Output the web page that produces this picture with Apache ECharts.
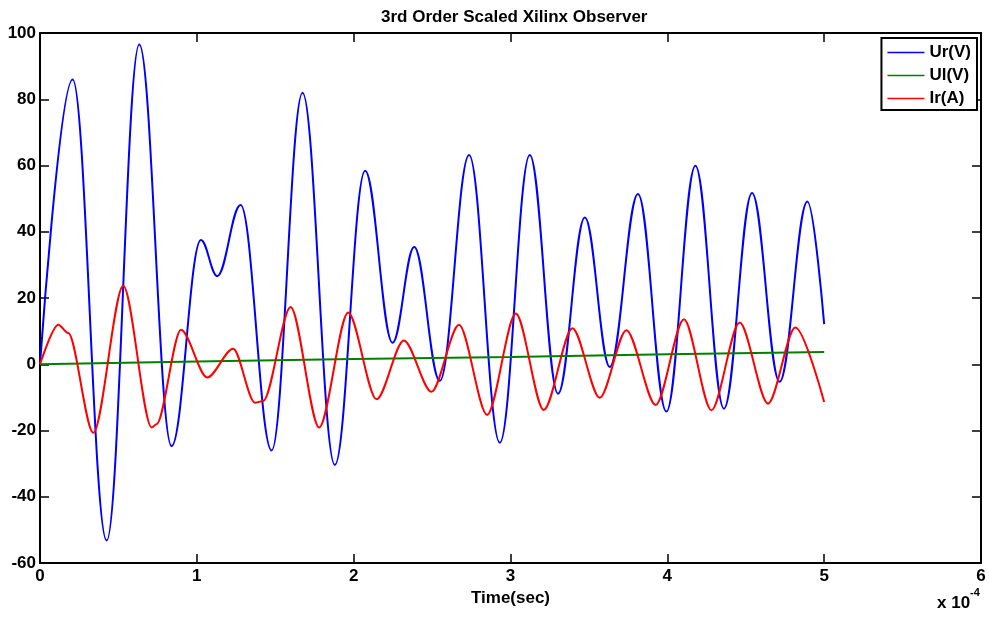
<!DOCTYPE html>
<html>
<head>
<meta charset="utf-8">
<script src="https://cdn.jsdelivr.net/npm/echarts@6/dist/echarts.min.js"></script>
<style>
html,body{margin:0;padding:0;background:#fff;}
#chart{width:989px;height:618px;}
</style>
</head>
<body>
<div id="chart"></div>
<script>
// Time in units of 1e-4 s
var urTime = [0, 0.208, 0.425, 0.633, 0.839, 1.026, 1.13, 1.279, 1.477, 1.674, 1.880, 2.073, 2.248, 2.386, 2.549, 2.736, 2.932, 3.123, 3.303, 3.474, 3.633, 3.813, 3.994, 4.179, 4.361, 4.540, 4.716, 4.893, 5.0];
var urValues = [0, 86, -53.2, 96.5, -24.7, 37.5, 26.6, 48.1, -26, 82, -30.4, 58.4, 6.5, 35.4, -5.0, 63.2, -23.7, 63.2, -8.9, 44.3, -0.8, 51.4, -14.3, 59.9, -13.4, 51.7, -5.3, 49.1, 12.1];

var ulTime = [0, 1, 2, 3, 4, 5];
var ulValues = [0, 0.8, 1.6, 2.2, 3.0, 3.7];

var irTime = [0, 0.117, 0.180, 0.340, 0.531, 0.712, 0.743, 0.899, 1.066, 1.232, 1.370, 1.423, 1.598, 1.780, 1.965, 2.146, 2.320, 2.496, 2.672, 2.851, 3.034, 3.212, 3.395, 3.569, 3.739, 3.926, 4.106, 4.281, 4.461, 4.642, 4.816, 5.0];
var irValues = [0, 11.9, 9.4, -20.7, 23.7, -19.1, -18.1, 10.4, -4.0, 4.7, -11.6, -11.1, 17.3, -19.1, 15.6, -10.6, 7.2, -8.3, 11.9, -15.3, 15.3, -13.8, 10.9, -10.1, 10.3, -12.3, 13.6, -13.9, 12.6, -11.9, 11.1, -11.4];

var seriesNames = ['Ur(V)', 'Ul(V)', 'Ir(A)'];
var titleText = '3rd Order Scaled Xilinx Observer';
var xAxisName = 'Time(sec)';

function pairs(t, v) { return t.map(function (x, i) { return [x, v[i]]; }); }

var FONT = '"Liberation Sans", Arial, Helvetica, sans-serif';
var chart = echarts.init(document.getElementById('chart'));
var axisLineStyle = { color: '#000', width: 2 };
var tickStyle = { show: true, inside: true, length: 9, lineStyle: { color: '#000', width: 1.5 } };
chart.setOption({
  animation: false,
  backgroundColor: '#fff',
  title: {
    text: titleText, left: 376, top: 4,
    textStyle: { fontFamily: FONT, fontSize: 17, fontWeight: 'bold', color: '#000' }
  },
  legend: {
    data: seriesNames, orient: 'vertical', right: 12, top: 38,
    backgroundColor: '#fff', borderColor: '#000', borderWidth: 2,
    padding: [6, 6, 3, 6], itemGap: 6, itemWidth: 37, itemHeight: 1.5, icon: 'rect',
    textStyle: { fontFamily: FONT, fontSize: 17, fontWeight: 'bold', color: '#000' }
  },
  grid: { left: 40, right: 8, top: 33, bottom: 55, containLabel: false },
  xAxis: [{
    type: 'value', min: 0, max: 6, interval: 1, position: 'bottom',
    name: xAxisName, nameLocation: 'middle', nameGap: 24,
    nameTextStyle: { fontFamily: FONT, fontSize: 17, fontWeight: 'bold', color: '#000' },
    axisLine: { show: true, onZero: false, lineStyle: axisLineStyle },
    axisTick: tickStyle,
    axisLabel: { margin: 5, fontFamily: FONT, fontSize: 17, fontWeight: 'bold', color: '#000' },
    splitLine: { show: false }
  }, {
    type: 'value', min: 0, max: 6, interval: 1, position: 'top',
    axisLine: { show: true, onZero: false, lineStyle: axisLineStyle },
    axisTick: tickStyle,
    axisLabel: { show: false }, splitLine: { show: false }
  }],
  yAxis: [{
    type: 'value', min: -60, max: 100, interval: 20, position: 'left',
    axisLine: { show: true, onZero: false, lineStyle: axisLineStyle },
    axisTick: tickStyle,
    axisLabel: { margin: 4, fontFamily: FONT, fontSize: 17, fontWeight: 'bold', color: '#000' },
    splitLine: { show: false }
  }, {
    type: 'value', min: -60, max: 100, interval: 20, position: 'right',
    axisLine: { show: true, onZero: false, lineStyle: axisLineStyle },
    axisTick: tickStyle,
    axisLabel: { show: false }, splitLine: { show: false }
  }],
  graphic: [
    { type: 'text', left: 937, top: 595, style: { text: 'x 10', font: 'bold 17px ' + FONT, fill: '#000' } },
    { type: 'text', left: 970, top: 587, style: { text: '-4', font: 'bold 11px ' + FONT, fill: '#000' } }
  ],
  series: [
    { name: seriesNames[0], type: 'line', data: pairs(urTime, urValues), showSymbol: false, smooth: 0.38, smoothMonotone: 'x',
      lineStyle: { color: '#0000ff', width: 2 }, itemStyle: { color: '#0000ff' } },
    { name: seriesNames[1], type: 'line', data: pairs(ulTime, ulValues), showSymbol: false,
      lineStyle: { color: '#008000', width: 2 }, itemStyle: { color: '#008000' } },
    { name: seriesNames[2], type: 'line', data: pairs(irTime, irValues), showSymbol: false, smooth: 0.3, smoothMonotone: 'x',
      lineStyle: { color: '#ff0000', width: 2 }, itemStyle: { color: '#ff0000' } }
  ]
});
</script>
</body>
</html>
